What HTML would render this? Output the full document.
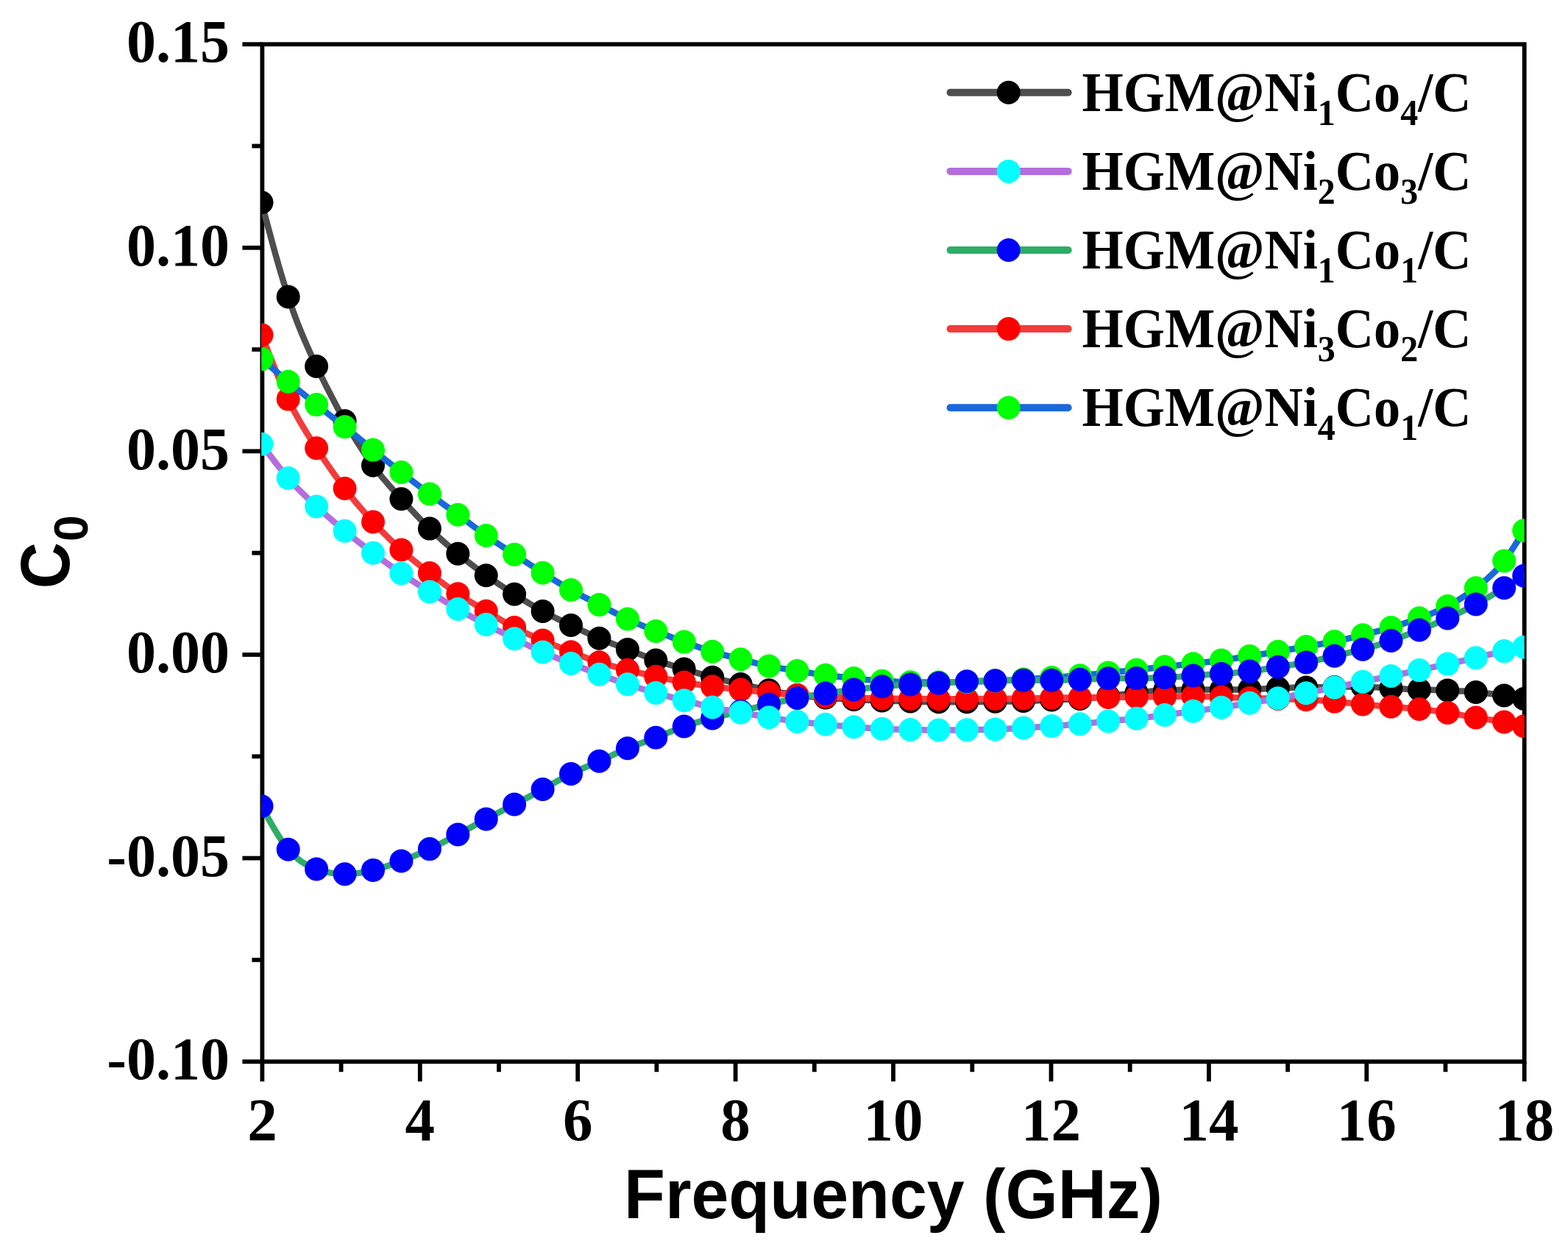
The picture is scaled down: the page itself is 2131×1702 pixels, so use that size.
<!DOCTYPE html><html><head><meta charset="utf-8"><title>C0 vs Frequency</title><style>html,body{margin:0;padding:0;background:#fff;}svg{display:block;}</style></head><body>
<svg width="2131" height="1702" viewBox="0 0 2131 1702">
<rect width="2131" height="1702" fill="#fff"/>
<defs><clipPath id="pc"><rect x="355.2" y="60.2" width="1716.5" height="1383"/></clipPath></defs>
<g><rect x="356.4" y="60.2" width="1715.3" height="1383" fill="none" stroke="#000" stroke-width="5.8"/><line x1="329.4" y1="60.2" x2="356.4" y2="60.2" stroke="#000" stroke-width="5.8"/><line x1="342.4" y1="198.5" x2="356.4" y2="198.5" stroke="#000" stroke-width="5.8"/><line x1="329.4" y1="336.8" x2="356.4" y2="336.8" stroke="#000" stroke-width="5.8"/><line x1="342.4" y1="475.1" x2="356.4" y2="475.1" stroke="#000" stroke-width="5.8"/><line x1="329.4" y1="613.4" x2="356.4" y2="613.4" stroke="#000" stroke-width="5.8"/><line x1="342.4" y1="751.7" x2="356.4" y2="751.7" stroke="#000" stroke-width="5.8"/><line x1="329.4" y1="890" x2="356.4" y2="890" stroke="#000" stroke-width="5.8"/><line x1="342.4" y1="1028.3" x2="356.4" y2="1028.3" stroke="#000" stroke-width="5.8"/><line x1="329.4" y1="1166.6" x2="356.4" y2="1166.6" stroke="#000" stroke-width="5.8"/><line x1="342.4" y1="1304.9" x2="356.4" y2="1304.9" stroke="#000" stroke-width="5.8"/><line x1="329.4" y1="1443.2" x2="356.4" y2="1443.2" stroke="#000" stroke-width="5.8"/><line x1="356.4" y1="1443.2" x2="356.4" y2="1470.2" stroke="#000" stroke-width="5.8"/><line x1="463.6" y1="1443.2" x2="463.6" y2="1457.2" stroke="#000" stroke-width="5.8"/><line x1="570.8" y1="1443.2" x2="570.8" y2="1470.2" stroke="#000" stroke-width="5.8"/><line x1="678" y1="1443.2" x2="678" y2="1457.2" stroke="#000" stroke-width="5.8"/><line x1="785.2" y1="1443.2" x2="785.2" y2="1470.2" stroke="#000" stroke-width="5.8"/><line x1="892.4" y1="1443.2" x2="892.4" y2="1457.2" stroke="#000" stroke-width="5.8"/><line x1="999.6" y1="1443.2" x2="999.6" y2="1470.2" stroke="#000" stroke-width="5.8"/><line x1="1106.8" y1="1443.2" x2="1106.8" y2="1457.2" stroke="#000" stroke-width="5.8"/><line x1="1214" y1="1443.2" x2="1214" y2="1470.2" stroke="#000" stroke-width="5.8"/><line x1="1321.3" y1="1443.2" x2="1321.3" y2="1457.2" stroke="#000" stroke-width="5.8"/><line x1="1428.5" y1="1443.2" x2="1428.5" y2="1470.2" stroke="#000" stroke-width="5.8"/><line x1="1535.7" y1="1443.2" x2="1535.7" y2="1457.2" stroke="#000" stroke-width="5.8"/><line x1="1642.9" y1="1443.2" x2="1642.9" y2="1470.2" stroke="#000" stroke-width="5.8"/><line x1="1750.1" y1="1443.2" x2="1750.1" y2="1457.2" stroke="#000" stroke-width="5.8"/><line x1="1857.3" y1="1443.2" x2="1857.3" y2="1470.2" stroke="#000" stroke-width="5.8"/><line x1="1964.5" y1="1443.2" x2="1964.5" y2="1457.2" stroke="#000" stroke-width="5.8"/><line x1="2071.7" y1="1443.2" x2="2071.7" y2="1470.2" stroke="#000" stroke-width="5.8"/></g>
<g font-family="Liberation Serif, 'Times New Roman', serif" font-weight="bold" fill="#000">
<text transform="translate(311.9,84.4) scale(1,1.025)" font-size="80" text-anchor="end">0.15</text>
<text transform="translate(311.9,361) scale(1,1.025)" font-size="80" text-anchor="end">0.10</text>
<text transform="translate(311.9,637.6) scale(1,1.025)" font-size="80" text-anchor="end">0.05</text>
<text transform="translate(311.9,914.2) scale(1,1.025)" font-size="80" text-anchor="end">0.00</text>
<text transform="translate(311.9,1190.8) scale(1,1.025)" font-size="80" text-anchor="end">-0.05</text>
<text transform="translate(311.9,1467.4) scale(1,1.025)" font-size="80" text-anchor="end">-0.10</text>
<text transform="translate(356.4,1550) scale(1,1.025)" font-size="81" text-anchor="middle">2</text>
<text transform="translate(570.8,1550) scale(1,1.025)" font-size="81" text-anchor="middle">4</text>
<text transform="translate(785.2,1550) scale(1,1.025)" font-size="81" text-anchor="middle">6</text>
<text transform="translate(999.6,1550) scale(1,1.025)" font-size="81" text-anchor="middle">8</text>
<text transform="translate(1214,1550) scale(1,1.025)" font-size="81" text-anchor="middle">10</text>
<text transform="translate(1428.5,1550) scale(1,1.025)" font-size="81" text-anchor="middle">12</text>
<text transform="translate(1642.9,1550) scale(1,1.025)" font-size="81" text-anchor="middle">14</text>
<text transform="translate(1857.3,1550) scale(1,1.025)" font-size="81" text-anchor="middle">16</text>
<text transform="translate(2071.7,1550) scale(1,1.025)" font-size="81" text-anchor="middle">18</text>
</g>
<text transform="translate(1214,1655.7) scale(1,1.025)" font-family="Liberation Sans, Arial, sans-serif" font-weight="bold" font-size="91.5" text-anchor="middle">Frequency (GHz)</text>
<g font-family="Liberation Sans, Arial, sans-serif" font-weight="bold"><text transform="translate(94.1,768.6) rotate(-90) scale(0.93,1)" font-size="94" text-anchor="middle">C</text><text transform="translate(118.8,718.2) rotate(-90)" font-size="64" text-anchor="middle">0</text></g>
<g clip-path="url(#pc)">
<polyline points="355.5,275.3 359.5,290.5 363.5,305.7 367.6,320.7 371.6,335.5 375.6,350 379.6,364.1 383.7,377.8 387.7,390.9 391.7,403.5 396,416.1 400.2,428 404.5,439.4 408.8,450.1 413.1,460.4 417.3,470.2 421.6,479.8 425.9,489 430.1,498 434.4,506.9 438.7,515.6 442.9,524.1 447.2,532.5 451.5,540.8 455.8,548.9 460,556.9 464.3,564.7 468.6,572.3 472.8,579.8 477.1,587.1 481.4,594.2 485.6,601.2 489.9,607.9 494.2,614.5 498.4,620.8 502.7,626.9 507,632.8 511.3,638.5 515.5,643.9 519.8,649.2 524.1,654.2 528.3,659.2 532.6,664.1 536.9,668.8 541.1,673.5 545.4,678.2 549.7,682.9 554,687.5 558.2,692.1 562.5,696.7 566.8,701.2 571,705.7 575.3,710.1 579.6,714.4 583.9,718.6 588.1,722.7 592.4,726.8 596.7,730.7 600.9,734.5 605.2,738.3 609.5,742 613.7,745.7 618,749.3 622.3,752.8 626.5,756.3 630.8,759.7 635.1,763.1 639.4,766.4 643.6,769.7 647.9,773 652.2,776.1 656.4,779.2 660.7,782.3 665,785.3 669.2,788.2 673.5,791.1 677.8,794 682.1,796.8 686.3,799.6 690.6,802.3 694.9,805.1 699.1,807.8 703.4,810.5 707.7,813.2 711.9,815.9 716.2,818.5 720.5,821.1 724.8,823.7 729,826.2 733.3,828.6 737.6,831 741.8,833.3 746.1,835.5 750.4,837.7 754.6,839.8 758.9,841.9 763.2,843.9 767.5,846 771.7,848 776,850 780.3,852 784.5,854.1 788.8,856.1 793.1,858.1 797.4,860.1 801.6,862.1 805.9,864 810.2,865.9 814.4,867.8 818.7,869.6 823,871.3 827.2,873 831.5,874.7 835.8,876.4 840,878 844.3,879.6 848.6,881.3 852.9,882.9 857.1,884.6 861.4,886.2 865.7,887.9 869.9,889.6 874.2,891.2 878.5,892.8 882.8,894.4 887,896 891.3,897.5 895.6,899 899.8,900.4 904.1,901.7 908.4,903.1 912.6,904.4 916.9,905.7 921.2,907 925.5,908.2 929.7,909.5 934,910.8 938.3,912.1 942.5,913.3 946.8,914.6 951.1,915.9 955.3,917.1 959.6,918.3 963.9,919.5 968.2,920.7 972.4,921.8 976.7,922.9 981,924 985.2,925.1 989.5,926.1 993.8,927.1 998,928.1 1002.3,929 1006.6,930 1010.8,930.9 1015.1,931.9 1019.4,932.8 1023.7,933.7 1027.9,934.6 1032.2,935.5 1036.5,936.4 1040.7,937.3 1045,938.2 1049.3,939.1 1053.5,939.9 1057.8,940.7 1062.1,941.6 1066.4,942.3 1070.6,943.1 1074.9,943.8 1079.2,944.4 1083.4,945 1087.7,945.5 1092,946 1096.2,946.5 1100.5,946.9 1104.8,947.2 1109.1,947.6 1113.3,947.9 1117.6,948.2 1121.9,948.5 1126.1,948.8 1130.4,949.1 1134.7,949.4 1138.9,949.7 1143.2,950 1147.5,950.3 1151.8,950.5 1156,950.8 1160.3,951 1164.6,951.2 1168.8,951.4 1173.1,951.6 1177.4,951.8 1181.7,951.9 1185.9,952.1 1190.2,952.2 1194.5,952.4 1198.7,952.5 1203,952.6 1207.3,952.7 1211.5,952.9 1215.8,953 1220.1,953.1 1224.4,953.2 1228.6,953.3 1232.9,953.4 1237.2,953.5 1241.4,953.6 1245.7,953.7 1250,953.8 1254.2,953.9 1258.5,954 1262.8,954 1267,954.1 1271.3,954.2 1275.6,954.2 1279.9,954.2 1284.1,954.3 1288.4,954.3 1292.7,954.3 1296.9,954.3 1301.2,954.3 1305.5,954.2 1309.8,954.2 1314,954.2 1318.3,954.2 1322.6,954.1 1326.8,954.1 1331.1,954.1 1335.4,954 1339.6,954 1343.9,953.9 1348.2,953.9 1352.5,953.8 1356.7,953.7 1361,953.7 1365.3,953.6 1369.5,953.5 1373.8,953.4 1378.1,953.4 1382.3,953.2 1386.6,953.1 1390.9,953 1395.1,952.9 1399.4,952.7 1403.7,952.5 1408,952.4 1412.2,952.2 1416.5,952 1420.8,951.8 1425,951.7 1429.3,951.5 1433.6,951.4 1437.8,951.2 1442.1,951.1 1446.4,950.9 1450.7,950.8 1454.9,950.6 1459.2,950.4 1463.5,950.2 1467.7,950 1472,949.7 1476.3,949.4 1480.5,949.1 1484.8,948.8 1489.1,948.4 1493.4,947.9 1497.6,947.5 1501.9,947 1506.2,946.5 1510.4,946 1514.7,945.4 1519,944.8 1523.2,944.2 1527.5,943.7 1531.8,943.1 1536.1,942.5 1540.3,942 1544.6,941.5 1548.9,941 1553.1,940.6 1557.4,940.2 1561.7,939.9 1566,939.5 1570.2,939.2 1574.5,939 1578.8,938.7 1583,938.5 1587.3,938.3 1591.6,938.1 1595.8,938 1600.1,937.9 1604.4,937.8 1608.7,937.7 1612.9,937.6 1617.2,937.5 1621.5,937.5 1625.7,937.5 1630,937.5 1634.3,937.5 1638.5,937.5 1642.8,937.5 1647.1,937.5 1651.4,937.5 1655.6,937.5 1659.9,937.5 1664.2,937.5 1668.4,937.5 1672.7,937.5 1677,937.4 1681.2,937.4 1685.5,937.3 1689.8,937.2 1694,937.1 1698.3,937 1702.6,936.9 1706.9,936.7 1711.1,936.6 1715.4,936.4 1719.7,936.2 1723.9,936 1728.2,935.8 1732.5,935.7 1736.8,935.5 1741,935.3 1745.3,935.2 1749.6,935.1 1753.8,934.9 1758.1,934.8 1762.4,934.7 1766.6,934.6 1770.9,934.6 1775.2,934.5 1779.5,934.4 1783.7,934.4 1788,934.3 1792.3,934.3 1796.5,934.3 1800.8,934.2 1805.1,934.1 1809.3,934.1 1813.6,934 1817.9,933.9 1822.2,933.8 1826.4,933.7 1830.7,933.6 1835,933.5 1839.2,933.5 1843.5,933.4 1847.8,933.4 1852,933.5 1856.3,933.6 1860.6,933.7 1864.8,933.9 1869.1,934.2 1873.4,934.4 1877.7,934.7 1881.9,934.9 1886.2,935.2 1890.5,935.5 1894.7,935.8 1899,936 1903.3,936.3 1907.5,936.5 1911.8,936.8 1916.1,937 1920.4,937.2 1924.6,937.3 1928.9,937.5 1933.2,937.6 1937.4,937.7 1941.7,937.8 1946,937.9 1950.2,938 1954.5,938.1 1958.8,938.2 1963.1,938.4 1967.3,938.5 1971.6,938.7 1975.9,938.9 1980.1,939.1 1984.4,939.4 1988.7,939.6 1993,939.9 1997.2,940.3 2001.5,940.6 2005.8,941 2010,941.4 2014.3,941.8 2018.6,942.3 2022.8,942.7 2027.1,943.2 2031.4,943.7 2035.7,944.3 2039.9,944.9 2044.2,945.5 2048.7,946.2 2053.2,946.9 2057.7,947.7 2062.2,948.4 2066.7,949.2 2071.2,950" fill="none" stroke="#4E4E4E" stroke-width="8.5" stroke-linejoin="round" stroke-linecap="round"/>
<g fill="#000000"><circle cx="355.5" cy="275.3" r="16.0"/><circle cx="391.7" cy="403.5" r="16.0"/><circle cx="430.1" cy="498" r="16.0"/><circle cx="468.6" cy="572.3" r="16.0"/><circle cx="507" cy="632.8" r="16.0"/><circle cx="545.4" cy="678.2" r="16.0"/><circle cx="583.9" cy="718.6" r="16.0"/><circle cx="622.3" cy="752.8" r="16.0"/><circle cx="660.7" cy="782.3" r="16.0"/><circle cx="699.1" cy="807.8" r="16.0"/><circle cx="737.6" cy="831" r="16.0"/><circle cx="776" cy="850" r="16.0"/><circle cx="814.4" cy="867.8" r="16.0"/><circle cx="852.9" cy="882.9" r="16.0"/><circle cx="891.3" cy="897.5" r="16.0"/><circle cx="929.7" cy="909.5" r="16.0"/><circle cx="968.2" cy="920.7" r="16.0"/><circle cx="1006.6" cy="930" r="16.0"/><circle cx="1045" cy="938.2" r="16.0"/><circle cx="1083.4" cy="945" r="16.0"/><circle cx="1121.9" cy="948.5" r="16.0"/><circle cx="1160.3" cy="951" r="16.0"/><circle cx="1198.7" cy="952.5" r="16.0"/><circle cx="1237.2" cy="953.5" r="16.0"/><circle cx="1275.6" cy="954.2" r="16.0"/><circle cx="1314" cy="954.2" r="16.0"/><circle cx="1352.5" cy="953.8" r="16.0"/><circle cx="1390.9" cy="953" r="16.0"/><circle cx="1429.3" cy="951.5" r="16.0"/><circle cx="1467.7" cy="950" r="16.0"/><circle cx="1506.2" cy="946.5" r="16.0"/><circle cx="1544.6" cy="941.5" r="16.0"/><circle cx="1583" cy="938.5" r="16.0"/><circle cx="1621.5" cy="937.5" r="16.0"/><circle cx="1659.9" cy="937.5" r="16.0"/><circle cx="1698.3" cy="937" r="16.0"/><circle cx="1736.8" cy="935.5" r="16.0"/><circle cx="1775.2" cy="934.5" r="16.0"/><circle cx="1813.6" cy="934" r="16.0"/><circle cx="1852" cy="933.5" r="16.0"/><circle cx="1890.5" cy="935.5" r="16.0"/><circle cx="1928.9" cy="937.5" r="16.0"/><circle cx="1967.3" cy="938.5" r="16.0"/><circle cx="2005.8" cy="941" r="16.0"/><circle cx="2044.2" cy="945.5" r="16.0"/><circle cx="2071.2" cy="950" r="16.0"/></g>
<polyline points="355.5,455.2 359.5,465.5 363.5,475.8 367.6,486 371.6,496.1 375.6,506 379.6,515.6 383.7,524.9 387.7,534 391.7,542.6 396,551.3 400.2,559.6 404.5,567.5 408.8,575.1 413.1,582.3 417.3,589.3 421.6,596.1 425.9,602.8 430.1,609.3 434.4,615.7 438.7,622.1 442.9,628.4 447.2,634.6 451.5,640.7 455.8,646.7 460,652.6 464.3,658.4 468.6,664 472.8,669.5 477.1,674.9 481.4,680.2 485.6,685.3 489.9,690.3 494.2,695.3 498.4,700.1 502.7,704.8 507,709.5 511.3,714.1 515.5,718.6 519.8,723 524.1,727.3 528.3,731.5 532.6,735.6 536.9,739.7 541.1,743.6 545.4,747.5 549.7,751.3 554,755 558.2,758.6 562.5,762.1 566.8,765.6 571,769 575.3,772.4 579.6,775.8 583.9,779.1 588.1,782.4 592.4,785.7 596.7,788.9 600.9,792.1 605.2,795.3 609.5,798.4 613.7,801.4 618,804.4 622.3,807.3 626.5,810.1 630.8,812.8 635.1,815.5 639.4,818.1 643.6,820.7 647.9,823.2 652.2,825.7 656.4,828.3 660.7,830.8 665,833.3 669.2,835.9 673.5,838.5 677.8,841 682.1,843.5 686.3,846 690.6,848.4 694.9,850.7 699.1,853 703.4,855.2 707.7,857.3 711.9,859.3 716.2,861.3 720.5,863.2 724.8,865.1 729,866.9 733.3,868.7 737.6,870.5 741.8,872.3 746.1,874.1 750.4,875.8 754.6,877.6 758.9,879.3 763.2,881.1 767.5,882.8 771.7,884.5 776,886.2 780.3,887.9 784.5,889.6 788.8,891.2 793.1,892.8 797.4,894.4 801.6,896 805.9,897.5 810.2,898.9 814.4,900.3 818.7,901.6 823,902.9 827.2,904.1 831.5,905.3 835.8,906.4 840,907.5 844.3,908.6 848.6,909.7 852.9,910.7 857.1,911.7 861.4,912.8 865.7,913.8 869.9,914.8 874.2,915.8 878.5,916.8 882.8,917.8 887,918.7 891.3,919.7 895.6,920.6 899.8,921.6 904.1,922.5 908.4,923.3 912.6,924.2 916.9,925 921.2,925.8 925.5,926.6 929.7,927.4 934,928.1 938.3,928.9 942.5,929.5 946.8,930.2 951.1,930.8 955.3,931.5 959.6,932.1 963.9,932.6 968.2,933.2 972.4,933.7 976.7,934.3 981,934.8 985.2,935.3 989.5,935.8 993.8,936.2 998,936.7 1002.3,937.2 1006.6,937.6 1010.8,938 1015.1,938.5 1019.4,938.9 1023.7,939.4 1027.9,939.8 1032.2,940.2 1036.5,940.6 1040.7,941.1 1045,941.5 1049.3,941.9 1053.5,942.4 1057.8,942.8 1062.1,943.2 1066.4,943.6 1070.6,944 1074.9,944.3 1079.2,944.7 1083.4,945 1087.7,945.3 1092,945.6 1096.2,945.8 1100.5,946 1104.8,946.2 1109.1,946.4 1113.3,946.6 1117.6,946.8 1121.9,947 1126.1,947.2 1130.4,947.4 1134.7,947.5 1138.9,947.7 1143.2,947.9 1147.5,948 1151.8,948.2 1156,948.4 1160.3,948.5 1164.6,948.6 1168.8,948.8 1173.1,948.9 1177.4,949 1181.7,949.1 1185.9,949.2 1190.2,949.3 1194.5,949.4 1198.7,949.5 1203,949.6 1207.3,949.6 1211.5,949.7 1215.8,949.8 1220.1,949.8 1224.4,949.9 1228.6,949.9 1232.9,950 1237.2,950 1241.4,950 1245.7,950.1 1250,950.1 1254.2,950.1 1258.5,950.1 1262.8,950.2 1267,950.2 1271.3,950.2 1275.6,950.2 1279.9,950.2 1284.1,950.2 1288.4,950.2 1292.7,950.2 1296.9,950.2 1301.2,950.2 1305.5,950.2 1309.8,950.2 1314,950.2 1318.3,950.2 1322.6,950.2 1326.8,950.2 1331.1,950.1 1335.4,950.1 1339.6,950.1 1343.9,950.1 1348.2,950 1352.5,950 1356.7,950 1361,949.9 1365.3,949.9 1369.5,949.8 1373.8,949.8 1378.1,949.7 1382.3,949.6 1386.6,949.6 1390.9,949.5 1395.1,949.4 1399.4,949.3 1403.7,949.3 1408,949.2 1412.2,949.1 1416.5,949 1420.8,949 1425,948.9 1429.3,948.8 1433.6,948.7 1437.8,948.7 1442.1,948.6 1446.4,948.5 1450.7,948.5 1454.9,948.4 1459.2,948.4 1463.5,948.3 1467.7,948.3 1472,948.3 1476.3,948.2 1480.5,948.2 1484.8,948.2 1489.1,948.1 1493.4,948.1 1497.6,948.1 1501.9,948 1506.2,948 1510.4,948 1514.7,947.9 1519,947.8 1523.2,947.8 1527.5,947.7 1531.8,947.7 1536.1,947.6 1540.3,947.6 1544.6,947.5 1548.9,947.4 1553.1,947.4 1557.4,947.3 1561.7,947.3 1566,947.2 1570.2,947.2 1574.5,947.1 1578.8,947.1 1583,947 1587.3,946.9 1591.6,946.8 1595.8,946.8 1600.1,946.7 1604.4,946.6 1608.7,946.6 1612.9,946.5 1617.2,946.5 1621.5,946.5 1625.7,946.5 1630,946.6 1634.3,946.7 1638.5,946.8 1642.8,946.9 1647.1,947 1651.4,947.2 1655.6,947.3 1659.9,947.5 1664.2,947.7 1668.4,947.8 1672.7,948 1677,948.2 1681.2,948.4 1685.5,948.5 1689.8,948.7 1694,948.9 1698.3,949 1702.6,949.1 1706.9,949.3 1711.1,949.4 1715.4,949.5 1719.7,949.6 1723.9,949.7 1728.2,949.8 1732.5,949.9 1736.8,950 1741,950.1 1745.3,950.2 1749.6,950.4 1753.8,950.5 1758.1,950.6 1762.4,950.8 1766.6,951 1770.9,951.1 1775.2,951.3 1779.5,951.5 1783.7,951.7 1788,951.9 1792.3,952.1 1796.5,952.4 1800.8,952.6 1805.1,952.9 1809.3,953.2 1813.6,953.6 1817.9,954 1822.2,954.4 1826.4,954.8 1830.7,955.3 1835,955.7 1839.2,956.2 1843.5,956.6 1847.8,957.1 1852,957.5 1856.3,957.9 1860.6,958.3 1864.8,958.7 1869.1,959 1873.4,959.4 1877.7,959.7 1881.9,960 1886.2,960.4 1890.5,960.7 1894.7,961 1899,961.4 1903.3,961.7 1907.5,962.1 1911.8,962.4 1916.1,962.8 1920.4,963.2 1924.6,963.6 1928.9,964 1933.2,964.4 1937.4,964.9 1941.7,965.4 1946,965.9 1950.2,966.4 1954.5,967 1958.8,967.6 1963.1,968.2 1967.3,968.9 1971.6,969.6 1975.9,970.3 1980.1,971.1 1984.4,971.8 1988.7,972.6 1993,973.3 1997.2,974.1 2001.5,974.8 2005.8,975.5 2010,976.2 2014.3,976.8 2018.6,977.4 2022.8,978.1 2027.1,978.7 2031.4,979.3 2035.7,980 2039.9,980.7 2044.2,981.5 2048.7,982.4 2053.2,983.3 2057.7,984.3 2062.2,985.2 2066.7,986.3 2071.2,987.3" fill="none" stroke="#F23C3C" stroke-width="8.5" stroke-linejoin="round" stroke-linecap="round"/>
<g fill="#FF0000"><circle cx="355.5" cy="455.2" r="16.0"/><circle cx="391.7" cy="542.6" r="16.0"/><circle cx="430.1" cy="609.3" r="16.0"/><circle cx="468.6" cy="664" r="16.0"/><circle cx="507" cy="709.5" r="16.0"/><circle cx="545.4" cy="747.5" r="16.0"/><circle cx="583.9" cy="779.1" r="16.0"/><circle cx="622.3" cy="807.3" r="16.0"/><circle cx="660.7" cy="830.8" r="16.0"/><circle cx="699.1" cy="853" r="16.0"/><circle cx="737.6" cy="870.5" r="16.0"/><circle cx="776" cy="886.2" r="16.0"/><circle cx="814.4" cy="900.3" r="16.0"/><circle cx="852.9" cy="910.7" r="16.0"/><circle cx="891.3" cy="919.7" r="16.0"/><circle cx="929.7" cy="927.4" r="16.0"/><circle cx="968.2" cy="933.2" r="16.0"/><circle cx="1006.6" cy="937.6" r="16.0"/><circle cx="1045" cy="941.5" r="16.0"/><circle cx="1083.4" cy="945" r="16.0"/><circle cx="1121.9" cy="947" r="16.0"/><circle cx="1160.3" cy="948.5" r="16.0"/><circle cx="1198.7" cy="949.5" r="16.0"/><circle cx="1237.2" cy="950" r="16.0"/><circle cx="1275.6" cy="950.2" r="16.0"/><circle cx="1314" cy="950.2" r="16.0"/><circle cx="1352.5" cy="950" r="16.0"/><circle cx="1390.9" cy="949.5" r="16.0"/><circle cx="1429.3" cy="948.8" r="16.0"/><circle cx="1467.7" cy="948.3" r="16.0"/><circle cx="1506.2" cy="948" r="16.0"/><circle cx="1544.6" cy="947.5" r="16.0"/><circle cx="1583" cy="947" r="16.0"/><circle cx="1621.5" cy="946.5" r="16.0"/><circle cx="1659.9" cy="947.5" r="16.0"/><circle cx="1698.3" cy="949" r="16.0"/><circle cx="1736.8" cy="950" r="16.0"/><circle cx="1775.2" cy="951.3" r="16.0"/><circle cx="1813.6" cy="953.6" r="16.0"/><circle cx="1852" cy="957.5" r="16.0"/><circle cx="1890.5" cy="960.7" r="16.0"/><circle cx="1928.9" cy="964" r="16.0"/><circle cx="1967.3" cy="968.9" r="16.0"/><circle cx="2005.8" cy="975.5" r="16.0"/><circle cx="2044.2" cy="981.5" r="16.0"/><circle cx="2071.2" cy="987.3" r="16.0"/></g>
<polyline points="355.5,488.1 359.5,491.5 363.5,494.9 367.6,498.3 371.6,501.8 375.6,505.2 379.6,508.6 383.7,511.9 387.7,515.3 391.7,518.7 396,522.3 400.2,525.8 404.5,529.4 408.8,532.9 413.1,536.4 417.3,539.8 421.6,543.3 425.9,546.7 430.1,550.1 434.4,553.5 438.7,556.8 442.9,560.1 447.2,563.5 451.5,566.8 455.8,570.1 460,573.4 464.3,576.8 468.6,580.2 472.8,583.6 477.1,587.1 481.4,590.6 485.6,594.1 489.9,597.6 494.2,601.1 498.4,604.6 502.7,608.1 507,611.6 511.3,615.1 515.5,618.5 519.8,621.9 524.1,625.3 528.3,628.6 532.6,632 536.9,635.3 541.1,638.7 545.4,642 549.7,645.3 554,648.6 558.2,652 562.5,655.3 566.8,658.6 571,661.8 575.3,665.1 579.6,668.3 583.9,671.5 588.1,674.7 592.4,677.8 596.7,681 600.9,684.1 605.2,687.2 609.5,690.3 613.7,693.4 618,696.6 622.3,699.7 626.5,702.9 630.8,706 635.1,709.2 639.4,712.4 643.6,715.6 647.9,718.7 652.2,721.9 656.4,725 660.7,728 665,731 669.2,733.9 673.5,736.9 677.8,739.7 682.1,742.6 686.3,745.4 690.6,748.2 694.9,751 699.1,753.8 703.4,756.6 707.7,759.4 711.9,762.2 716.2,764.9 720.5,767.7 724.8,770.5 729,773.2 733.3,776 737.6,778.7 741.8,781.4 746.1,784.1 750.4,786.8 754.6,789.4 758.9,792 763.2,794.6 767.5,797.1 771.7,799.6 776,802 780.3,804.4 784.5,806.7 788.8,808.9 793.1,811.2 797.4,813.4 801.6,815.6 805.9,817.7 810.2,819.9 814.4,822.1 818.7,824.3 823,826.5 827.2,828.7 831.5,830.9 835.8,833.1 840,835.2 844.3,837.4 848.6,839.5 852.9,841.5 857.1,843.5 861.4,845.4 865.7,847.3 869.9,849.2 874.2,851 878.5,852.8 882.8,854.6 887,856.3 891.3,858 895.6,859.7 899.8,861.4 904.1,863 908.4,864.6 912.6,866.3 916.9,867.9 921.2,869.5 925.5,871 929.7,872.6 934,874.2 938.3,875.7 942.5,877.2 946.8,878.7 951.1,880.2 955.3,881.6 959.6,883 963.9,884.4 968.2,885.7 972.4,887 976.7,888.2 981,889.4 985.2,890.6 989.5,891.8 993.8,892.9 998,894 1002.3,895.1 1006.6,896.2 1010.8,897.3 1015.1,898.4 1019.4,899.5 1023.7,900.5 1027.9,901.6 1032.2,902.6 1036.5,903.6 1040.7,904.5 1045,905.4 1049.3,906.3 1053.5,907.1 1057.8,907.8 1062.1,908.6 1066.4,909.3 1070.6,910 1074.9,910.7 1079.2,911.3 1083.4,912 1087.7,912.7 1092,913.4 1096.2,914 1100.5,914.7 1104.8,915.4 1109.1,916 1113.3,916.6 1117.6,917.2 1121.9,917.8 1126.1,918.3 1130.4,918.9 1134.7,919.4 1138.9,919.8 1143.2,920.3 1147.5,920.8 1151.8,921.2 1156,921.7 1160.3,922.1 1164.6,922.5 1168.8,923 1173.1,923.4 1177.4,923.9 1181.7,924.3 1185.9,924.7 1190.2,925 1194.5,925.4 1198.7,925.7 1203,926 1207.3,926.2 1211.5,926.4 1215.8,926.6 1220.1,926.8 1224.4,926.9 1228.6,927 1232.9,927.1 1237.2,927.2 1241.4,927.3 1245.7,927.3 1250,927.4 1254.2,927.4 1258.5,927.5 1262.8,927.5 1267,927.5 1271.3,927.5 1275.6,927.5 1279.9,927.5 1284.1,927.5 1288.4,927.4 1292.7,927.4 1296.9,927.3 1301.2,927.3 1305.5,927.2 1309.8,927.1 1314,927 1318.3,926.9 1322.6,926.7 1326.8,926.6 1331.1,926.4 1335.4,926.3 1339.6,926.1 1343.9,925.9 1348.2,925.7 1352.5,925.5 1356.7,925.3 1361,925.1 1365.3,924.9 1369.5,924.7 1373.8,924.5 1378.1,924.2 1382.3,924 1386.6,923.8 1390.9,923.5 1395.1,923.2 1399.4,923 1403.7,922.7 1408,922.4 1412.2,922.1 1416.5,921.8 1420.8,921.6 1425,921.3 1429.3,921 1433.6,920.7 1437.8,920.5 1442.1,920.2 1446.4,919.9 1450.7,919.6 1454.9,919.3 1459.2,919 1463.5,918.7 1467.7,918.3 1472,917.9 1476.3,917.5 1480.5,917.1 1484.8,916.6 1489.1,916.2 1493.4,915.7 1497.6,915.3 1501.9,914.8 1506.2,914.4 1510.4,914 1514.7,913.6 1519,913.2 1523.2,912.8 1527.5,912.4 1531.8,912 1536.1,911.6 1540.3,911.1 1544.6,910.7 1548.9,910.2 1553.1,909.8 1557.4,909.3 1561.7,908.8 1566,908.3 1570.2,907.8 1574.5,907.3 1578.8,906.8 1583,906.3 1587.3,905.8 1591.6,905.4 1595.8,904.9 1600.1,904.5 1604.4,904 1608.7,903.6 1612.9,903.1 1617.2,902.7 1621.5,902.2 1625.7,901.7 1630,901.2 1634.3,900.7 1638.5,900.2 1642.8,899.7 1647.1,899.2 1651.4,898.6 1655.6,898.1 1659.9,897.5 1664.2,896.9 1668.4,896.3 1672.7,895.7 1677,895.1 1681.2,894.5 1685.5,893.8 1689.8,893.2 1694,892.6 1698.3,891.9 1702.6,891.2 1706.9,890.6 1711.1,889.9 1715.4,889.2 1719.7,888.5 1723.9,887.8 1728.2,887.1 1732.5,886.4 1736.8,885.7 1741,885 1745.3,884.2 1749.6,883.5 1753.8,882.7 1758.1,882 1762.4,881.2 1766.6,880.5 1770.9,879.7 1775.2,879 1779.5,878.3 1783.7,877.5 1788,876.8 1792.3,876 1796.5,875.3 1800.8,874.5 1805.1,873.7 1809.3,872.9 1813.6,872 1817.9,871.1 1822.2,870.2 1826.4,869.3 1830.7,868.3 1835,867.3 1839.2,866.3 1843.5,865.3 1847.8,864.2 1852,863.2 1856.3,862.2 1860.6,861.1 1864.8,860 1869.1,858.9 1873.4,857.8 1877.7,856.7 1881.9,855.5 1886.2,854.3 1890.5,853.1 1894.7,851.8 1899,850.5 1903.3,849.1 1907.5,847.7 1911.8,846.3 1916.1,844.8 1920.4,843.3 1924.6,841.8 1928.9,840.3 1933.2,838.7 1937.4,837.2 1941.7,835.5 1946,833.9 1950.2,832.1 1954.5,830.3 1958.8,828.3 1963.1,826.3 1967.3,824.1 1971.6,821.8 1975.9,819.4 1980.1,816.8 1984.4,814.1 1988.7,811.3 1993,808.4 1997.2,805.4 2001.5,802.4 2005.8,799.2 2010,796 2014.3,792.6 2018.6,789.1 2022.8,785.4 2027.1,781.4 2031.4,777.2 2035.7,772.7 2039.9,767.7 2044.2,762.4 2048.7,756.3 2053.2,749.8 2057.7,743 2062.2,735.9 2066.7,728.6 2071.2,721.3" fill="none" stroke="#1A68DA" stroke-width="8.5" stroke-linejoin="round" stroke-linecap="round"/>
<g fill="#00FF00"><circle cx="355.5" cy="488.1" r="16.0"/><circle cx="391.7" cy="518.7" r="16.0"/><circle cx="430.1" cy="550.1" r="16.0"/><circle cx="468.6" cy="580.2" r="16.0"/><circle cx="507" cy="611.6" r="16.0"/><circle cx="545.4" cy="642" r="16.0"/><circle cx="583.9" cy="671.5" r="16.0"/><circle cx="622.3" cy="699.7" r="16.0"/><circle cx="660.7" cy="728" r="16.0"/><circle cx="699.1" cy="753.8" r="16.0"/><circle cx="737.6" cy="778.7" r="16.0"/><circle cx="776" cy="802" r="16.0"/><circle cx="814.4" cy="822.1" r="16.0"/><circle cx="852.9" cy="841.5" r="16.0"/><circle cx="891.3" cy="858" r="16.0"/><circle cx="929.7" cy="872.6" r="16.0"/><circle cx="968.2" cy="885.7" r="16.0"/><circle cx="1006.6" cy="896.2" r="16.0"/><circle cx="1045" cy="905.4" r="16.0"/><circle cx="1083.4" cy="912" r="16.0"/><circle cx="1121.9" cy="917.8" r="16.0"/><circle cx="1160.3" cy="922.1" r="16.0"/><circle cx="1198.7" cy="925.7" r="16.0"/><circle cx="1237.2" cy="927.2" r="16.0"/><circle cx="1275.6" cy="927.5" r="16.0"/><circle cx="1314" cy="927" r="16.0"/><circle cx="1352.5" cy="925.5" r="16.0"/><circle cx="1390.9" cy="923.5" r="16.0"/><circle cx="1429.3" cy="921" r="16.0"/><circle cx="1467.7" cy="918.3" r="16.0"/><circle cx="1506.2" cy="914.4" r="16.0"/><circle cx="1544.6" cy="910.7" r="16.0"/><circle cx="1583" cy="906.3" r="16.0"/><circle cx="1621.5" cy="902.2" r="16.0"/><circle cx="1659.9" cy="897.5" r="16.0"/><circle cx="1698.3" cy="891.9" r="16.0"/><circle cx="1736.8" cy="885.7" r="16.0"/><circle cx="1775.2" cy="879" r="16.0"/><circle cx="1813.6" cy="872" r="16.0"/><circle cx="1852" cy="863.2" r="16.0"/><circle cx="1890.5" cy="853.1" r="16.0"/><circle cx="1928.9" cy="840.3" r="16.0"/><circle cx="1967.3" cy="824.1" r="16.0"/><circle cx="2005.8" cy="799.2" r="16.0"/><circle cx="2044.2" cy="762.4" r="16.0"/><circle cx="2071.2" cy="721.3" r="16.0"/></g>
<polyline points="355.5,1096 359.5,1103.4 363.5,1110.7 367.6,1117.8 371.6,1124.8 375.6,1131.5 379.6,1138 383.7,1144 387.7,1149.6 391.7,1154.7 396,1159.5 400.2,1163.7 404.5,1167.4 408.8,1170.7 413.1,1173.5 417.3,1175.9 421.6,1178 425.9,1179.8 430.1,1181.4 434.4,1182.8 438.7,1184.1 442.9,1185.2 447.2,1186.1 451.5,1186.9 455.8,1187.5 460,1187.9 464.3,1188.2 468.6,1188.3 472.8,1188.2 477.1,1188 481.4,1187.6 485.6,1187.1 489.9,1186.5 494.2,1185.8 498.4,1184.9 502.7,1183.9 507,1182.9 511.3,1181.8 515.5,1180.6 519.8,1179.3 524.1,1178 528.3,1176.6 532.6,1175.2 536.9,1173.7 541.1,1172.1 545.4,1170.5 549.7,1168.9 554,1167.2 558.2,1165.4 562.5,1163.7 566.8,1161.8 571,1160 575.3,1158.1 579.6,1156.1 583.9,1154.1 588.1,1152.1 592.4,1150 596.7,1147.8 600.9,1145.7 605.2,1143.5 609.5,1141.2 613.7,1139 618,1136.7 622.3,1134.4 626.5,1132.1 630.8,1129.7 635.1,1127.4 639.4,1125 643.6,1122.7 647.9,1120.3 652.2,1118 656.4,1115.7 660.7,1113.4 665,1111.1 669.2,1108.9 673.5,1106.7 677.8,1104.5 682.1,1102.3 686.3,1100.1 690.6,1097.9 694.9,1095.7 699.1,1093.5 703.4,1091.3 707.7,1089.1 711.9,1086.8 716.2,1084.6 720.5,1082.3 724.8,1080 729,1077.7 733.3,1075.4 737.6,1073 741.8,1070.6 746.1,1068.2 750.4,1065.8 754.6,1063.4 758.9,1061 763.2,1058.7 767.5,1056.4 771.7,1054.2 776,1052 780.3,1049.9 784.5,1047.9 788.8,1046 793.1,1044.1 797.4,1042.2 801.6,1040.3 805.9,1038.5 810.2,1036.6 814.4,1034.7 818.7,1032.8 823,1030.8 827.2,1028.8 831.5,1026.8 835.8,1024.8 840,1022.9 844.3,1021 848.6,1019.1 852.9,1017.3 857.1,1015.6 861.4,1013.9 865.7,1012.3 869.9,1010.7 874.2,1009.2 878.5,1007.6 882.8,1006 887,1004.4 891.3,1002.8 895.6,1001.1 899.8,999.4 904.1,997.6 908.4,995.9 912.6,994.1 916.9,992.4 921.2,990.7 925.5,989.1 929.7,987.5 934,986 938.3,984.6 942.5,983.3 946.8,982.1 951.1,980.9 955.3,979.7 959.6,978.6 963.9,977.5 968.2,976.4 972.4,975.3 976.7,974.2 981,973.2 985.2,972.1 989.5,971 993.8,970 998,968.9 1002.3,967.9 1006.6,966.8 1010.8,965.7 1015.1,964.7 1019.4,963.6 1023.7,962.6 1027.9,961.5 1032.2,960.5 1036.5,959.4 1040.7,958.4 1045,957.4 1049.3,956.4 1053.5,955.4 1057.8,954.4 1062.1,953.5 1066.4,952.5 1070.6,951.6 1074.9,950.7 1079.2,949.8 1083.4,949 1087.7,948.2 1092,947.4 1096.2,946.7 1100.5,945.9 1104.8,945.2 1109.1,944.5 1113.3,943.9 1117.6,943.2 1121.9,942.6 1126.1,942 1130.4,941.4 1134.7,940.8 1138.9,940.2 1143.2,939.7 1147.5,939.1 1151.8,938.6 1156,938 1160.3,937.5 1164.6,937 1168.8,936.5 1173.1,936 1177.4,935.5 1181.7,935 1185.9,934.5 1190.2,934 1194.5,933.6 1198.7,933.2 1203,932.8 1207.3,932.4 1211.5,932.1 1215.8,931.8 1220.1,931.4 1224.4,931.2 1228.6,930.9 1232.9,930.6 1237.2,930.4 1241.4,930.2 1245.7,930 1250,929.8 1254.2,929.6 1258.5,929.4 1262.8,929.2 1267,929 1271.3,928.8 1275.6,928.6 1279.9,928.4 1284.1,928.1 1288.4,927.8 1292.7,927.5 1296.9,927.3 1301.2,927 1305.5,926.7 1309.8,926.5 1314,926.3 1318.3,926.1 1322.6,926 1326.8,925.8 1331.1,925.7 1335.4,925.6 1339.6,925.5 1343.9,925.4 1348.2,925.4 1352.5,925.3 1356.7,925.2 1361,925.2 1365.3,925.1 1369.5,925 1373.8,925 1378.1,924.9 1382.3,924.9 1386.6,924.8 1390.9,924.8 1395.1,924.8 1399.4,924.8 1403.7,924.8 1408,924.8 1412.2,924.8 1416.5,924.8 1420.8,924.7 1425,924.7 1429.3,924.7 1433.6,924.7 1437.8,924.6 1442.1,924.5 1446.4,924.4 1450.7,924.3 1454.9,924.2 1459.2,924.1 1463.5,924 1467.7,923.8 1472,923.6 1476.3,923.4 1480.5,923.3 1484.8,923.1 1489.1,922.9 1493.4,922.7 1497.6,922.6 1501.9,922.4 1506.2,922.3 1510.4,922.2 1514.7,922.2 1519,922.1 1523.2,922.1 1527.5,922.1 1531.8,922.1 1536.1,922.1 1540.3,922 1544.6,922 1548.9,922 1553.1,921.9 1557.4,921.8 1561.7,921.7 1566,921.6 1570.2,921.4 1574.5,921.3 1578.8,921.1 1583,920.9 1587.3,920.7 1591.6,920.4 1595.8,920.2 1600.1,919.9 1604.4,919.7 1608.7,919.4 1612.9,919.1 1617.2,918.8 1621.5,918.5 1625.7,918.2 1630,917.9 1634.3,917.6 1638.5,917.3 1642.8,917 1647.1,916.8 1651.4,916.5 1655.6,916.2 1659.9,915.9 1664.2,915.6 1668.4,915.3 1672.7,915 1677,914.7 1681.2,914.3 1685.5,914 1689.8,913.6 1694,913.1 1698.3,912.6 1702.6,912 1706.9,911.5 1711.1,910.8 1715.4,910.2 1719.7,909.5 1723.9,908.8 1728.2,908.1 1732.5,907.4 1736.8,906.7 1741,906 1745.3,905.4 1749.6,904.7 1753.8,904 1758.1,903.4 1762.4,902.7 1766.6,902 1770.9,901.2 1775.2,900.4 1779.5,899.6 1783.7,898.7 1788,897.7 1792.3,896.8 1796.5,895.8 1800.8,894.8 1805.1,893.8 1809.3,892.8 1813.6,891.8 1817.9,890.8 1822.2,889.8 1826.4,888.9 1830.7,887.9 1835,886.9 1839.2,885.9 1843.5,884.9 1847.8,883.8 1852,882.7 1856.3,881.6 1860.6,880.4 1864.8,879.2 1869.1,877.9 1873.4,876.6 1877.7,875.3 1881.9,873.9 1886.2,872.5 1890.5,871 1894.7,869.5 1899,867.9 1903.3,866.4 1907.5,864.7 1911.8,863.1 1916.1,861.4 1920.4,859.8 1924.6,858.1 1928.9,856.4 1933.2,854.7 1937.4,853 1941.7,851.3 1946,849.6 1950.2,847.8 1954.5,846 1958.8,844.2 1963.1,842.4 1967.3,840.5 1971.6,838.6 1975.9,836.6 1980.1,834.6 1984.4,832.5 1988.7,830.4 1993,828.3 1997.2,826 2001.5,823.8 2005.8,821.5 2010,819.2 2014.3,816.8 2018.6,814.3 2022.8,811.9 2027.1,809.4 2031.4,806.9 2035.7,804.3 2039.9,801.8 2044.2,799.2 2048.7,796.5 2053.2,793.8 2057.7,791 2062.2,788.3 2066.7,785.5 2071.2,782.8" fill="none" stroke="#2EAD66" stroke-width="8.5" stroke-linejoin="round" stroke-linecap="round"/>
<g fill="#0000FF"><circle cx="355.5" cy="1096" r="16.0"/><circle cx="391.7" cy="1154.7" r="16.0"/><circle cx="430.1" cy="1181.4" r="16.0"/><circle cx="468.6" cy="1188.3" r="16.0"/><circle cx="507" cy="1182.9" r="16.0"/><circle cx="545.4" cy="1170.5" r="16.0"/><circle cx="583.9" cy="1154.1" r="16.0"/><circle cx="622.3" cy="1134.4" r="16.0"/><circle cx="660.7" cy="1113.4" r="16.0"/><circle cx="699.1" cy="1093.5" r="16.0"/><circle cx="737.6" cy="1073" r="16.0"/><circle cx="776" cy="1052" r="16.0"/><circle cx="814.4" cy="1034.7" r="16.0"/><circle cx="852.9" cy="1017.3" r="16.0"/><circle cx="891.3" cy="1002.8" r="16.0"/><circle cx="929.7" cy="987.5" r="16.0"/><circle cx="968.2" cy="976.4" r="16.0"/><circle cx="1006.6" cy="966.8" r="16.0"/><circle cx="1045" cy="957.4" r="16.0"/><circle cx="1083.4" cy="949" r="16.0"/><circle cx="1121.9" cy="942.6" r="16.0"/><circle cx="1160.3" cy="937.5" r="16.0"/><circle cx="1198.7" cy="933.2" r="16.0"/><circle cx="1237.2" cy="930.4" r="16.0"/><circle cx="1275.6" cy="928.6" r="16.0"/><circle cx="1314" cy="926.3" r="16.0"/><circle cx="1352.5" cy="925.3" r="16.0"/><circle cx="1390.9" cy="924.8" r="16.0"/><circle cx="1429.3" cy="924.7" r="16.0"/><circle cx="1467.7" cy="923.8" r="16.0"/><circle cx="1506.2" cy="922.3" r="16.0"/><circle cx="1544.6" cy="922" r="16.0"/><circle cx="1583" cy="920.9" r="16.0"/><circle cx="1621.5" cy="918.5" r="16.0"/><circle cx="1659.9" cy="915.9" r="16.0"/><circle cx="1698.3" cy="912.6" r="16.0"/><circle cx="1736.8" cy="906.7" r="16.0"/><circle cx="1775.2" cy="900.4" r="16.0"/><circle cx="1813.6" cy="891.8" r="16.0"/><circle cx="1852" cy="882.7" r="16.0"/><circle cx="1890.5" cy="871" r="16.0"/><circle cx="1928.9" cy="856.4" r="16.0"/><circle cx="1967.3" cy="840.5" r="16.0"/><circle cx="2005.8" cy="821.5" r="16.0"/><circle cx="2044.2" cy="799.2" r="16.0"/><circle cx="2071.2" cy="782.8" r="16.0"/></g>
<polyline points="355.5,603.7 359.5,609.1 363.5,614.5 367.6,619.8 371.6,625.1 375.6,630.3 379.6,635.4 383.7,640.4 387.7,645.3 391.7,650 396,654.8 400.2,659.4 404.5,663.9 408.8,668.2 413.1,672.4 417.3,676.5 421.6,680.6 425.9,684.5 430.1,688.4 434.4,692.3 438.7,696.1 442.9,699.9 447.2,703.6 451.5,707.4 455.8,711 460,714.7 464.3,718.3 468.6,721.8 472.8,725.3 477.1,728.7 481.4,732.1 485.6,735.5 489.9,738.8 494.2,742.1 498.4,745.4 502.7,748.6 507,751.8 511.3,755 515.5,758.2 519.8,761.3 524.1,764.4 528.3,767.5 532.6,770.6 536.9,773.6 541.1,776.6 545.4,779.5 549.7,782.4 554,785.3 558.2,788.1 562.5,790.9 566.8,793.6 571,796.4 575.3,799.1 579.6,801.8 583.9,804.5 588.1,807.2 592.4,809.9 596.7,812.5 600.9,815.2 605.2,817.8 609.5,820.4 613.7,823 618,825.5 622.3,828 626.5,830.5 630.8,832.9 635.1,835.3 639.4,837.6 643.6,840 647.9,842.3 652.2,844.5 656.4,846.8 660.7,849 665,851.2 669.2,853.4 673.5,855.5 677.8,857.7 682.1,859.8 686.3,861.9 690.6,864 694.9,866.1 699.1,868.2 703.4,870.3 707.7,872.4 711.9,874.5 716.2,876.5 720.5,878.6 724.8,880.6 729,882.6 733.3,884.5 737.6,886.4 741.8,888.3 746.1,890.1 750.4,891.8 754.6,893.6 758.9,895.3 763.2,897 767.5,898.7 771.7,900.3 776,902 780.3,903.7 784.5,905.3 788.8,907 793.1,908.6 797.4,910.3 801.6,911.9 805.9,913.5 810.2,915.1 814.4,916.7 818.7,918.3 823,919.8 827.2,921.4 831.5,922.9 835.8,924.4 840,925.9 844.3,927.3 848.6,928.8 852.9,930.2 857.1,931.6 861.4,933 865.7,934.3 869.9,935.7 874.2,937 878.5,938.3 882.8,939.5 887,940.8 891.3,942 895.6,943.2 899.8,944.4 904.1,945.5 908.4,946.7 912.6,947.8 916.9,948.9 921.2,950 925.5,951.1 929.7,952.2 934,953.3 938.3,954.4 942.5,955.5 946.8,956.5 951.1,957.6 955.3,958.6 959.6,959.6 963.9,960.6 968.2,961.5 972.4,962.4 976.7,963.2 981,964.1 985.2,964.9 989.5,965.6 993.8,966.4 998,967.1 1002.3,967.9 1006.6,968.6 1010.8,969.3 1015.1,970.1 1019.4,970.8 1023.7,971.6 1027.9,972.3 1032.2,973 1036.5,973.8 1040.7,974.5 1045,975.2 1049.3,975.9 1053.5,976.6 1057.8,977.3 1062.1,977.9 1066.4,978.6 1070.6,979.2 1074.9,979.8 1079.2,980.4 1083.4,980.9 1087.7,981.4 1092,981.9 1096.2,982.4 1100.5,982.8 1104.8,983.2 1109.1,983.6 1113.3,984 1117.6,984.4 1121.9,984.8 1126.1,985.2 1130.4,985.6 1134.7,986 1138.9,986.4 1143.2,986.7 1147.5,987.1 1151.8,987.5 1156,987.8 1160.3,988.2 1164.6,988.5 1168.8,988.9 1173.1,989.2 1177.4,989.5 1181.7,989.8 1185.9,990.1 1190.2,990.3 1194.5,990.6 1198.7,990.8 1203,991 1207.3,991.2 1211.5,991.3 1215.8,991.5 1220.1,991.6 1224.4,991.7 1228.6,991.8 1232.9,991.9 1237.2,992 1241.4,992.1 1245.7,992.2 1250,992.2 1254.2,992.3 1258.5,992.4 1262.8,992.4 1267,992.4 1271.3,992.5 1275.6,992.5 1279.9,992.5 1284.1,992.5 1288.4,992.5 1292.7,992.5 1296.9,992.5 1301.2,992.4 1305.5,992.4 1309.8,992.4 1314,992.3 1318.3,992.2 1322.6,992.2 1326.8,992.1 1331.1,992 1335.4,991.9 1339.6,991.8 1343.9,991.7 1348.2,991.5 1352.5,991.4 1356.7,991.2 1361,991.1 1365.3,990.9 1369.5,990.7 1373.8,990.4 1378.1,990.2 1382.3,990 1386.6,989.7 1390.9,989.5 1395.1,989.2 1399.4,989 1403.7,988.7 1408,988.5 1412.2,988.2 1416.5,987.9 1420.8,987.7 1425,987.4 1429.3,987.1 1433.6,986.8 1437.8,986.5 1442.1,986.2 1446.4,985.9 1450.7,985.6 1454.9,985.3 1459.2,984.9 1463.5,984.6 1467.7,984.2 1472,983.8 1476.3,983.4 1480.5,983 1484.8,982.6 1489.1,982.1 1493.4,981.7 1497.6,981.3 1501.9,980.8 1506.2,980.4 1510.4,980 1514.7,979.6 1519,979.2 1523.2,978.8 1527.5,978.4 1531.8,978 1536.1,977.6 1540.3,977.1 1544.6,976.7 1548.9,976.2 1553.1,975.8 1557.4,975.3 1561.7,974.7 1566,974.2 1570.2,973.7 1574.5,973.1 1578.8,972.6 1583,972 1587.3,971.4 1591.6,970.8 1595.8,970.3 1600.1,969.7 1604.4,969.1 1608.7,968.5 1612.9,967.9 1617.2,967.4 1621.5,966.8 1625.7,966.3 1630,965.7 1634.3,965.2 1638.5,964.6 1642.8,964.1 1647.1,963.5 1651.4,963 1655.6,962.4 1659.9,961.8 1664.2,961.2 1668.4,960.5 1672.7,959.9 1677,959.2 1681.2,958.5 1685.5,957.8 1689.8,957.1 1694,956.4 1698.3,955.7 1702.6,955 1706.9,954.3 1711.1,953.6 1715.4,952.9 1719.7,952.2 1723.9,951.5 1728.2,950.8 1732.5,950 1736.8,949.3 1741,948.6 1745.3,947.8 1749.6,947 1753.8,946.3 1758.1,945.5 1762.4,944.7 1766.6,943.9 1770.9,943 1775.2,942.2 1779.5,941.4 1783.7,940.5 1788,939.6 1792.3,938.8 1796.5,937.9 1800.8,937 1805.1,936.1 1809.3,935.3 1813.6,934.4 1817.9,933.5 1822.2,932.7 1826.4,931.8 1830.7,931 1835,930.1 1839.2,929.3 1843.5,928.4 1847.8,927.6 1852,926.7 1856.3,925.8 1860.6,925 1864.8,924.1 1869.1,923.2 1873.4,922.4 1877.7,921.5 1881.9,920.6 1886.2,919.8 1890.5,918.9 1894.7,918 1899,917.2 1903.3,916.3 1907.5,915.5 1911.8,914.6 1916.1,913.8 1920.4,912.9 1924.6,912 1928.9,911.1 1933.2,910.2 1937.4,909.2 1941.7,908.3 1946,907.3 1950.2,906.4 1954.5,905.4 1958.8,904.5 1963.1,903.5 1967.3,902.6 1971.6,901.7 1975.9,900.8 1980.1,899.9 1984.4,899 1988.7,898.1 1993,897.2 1997.2,896.2 2001.5,895.3 2005.8,894.3 2010,893.3 2014.3,892.3 2018.6,891.2 2022.8,890.2 2027.1,889.1 2031.4,888.1 2035.7,887.1 2039.9,886.1 2044.2,885.1 2048.7,884.1 2053.2,883.2 2057.7,882.3 2062.2,881.4 2066.7,880.6 2071.2,879.7" fill="none" stroke="#B46EDC" stroke-width="8.5" stroke-linejoin="round" stroke-linecap="round"/>
<g fill="#00FFFF"><circle cx="355.5" cy="603.7" r="16.0"/><circle cx="391.7" cy="650" r="16.0"/><circle cx="430.1" cy="688.4" r="16.0"/><circle cx="468.6" cy="721.8" r="16.0"/><circle cx="507" cy="751.8" r="16.0"/><circle cx="545.4" cy="779.5" r="16.0"/><circle cx="583.9" cy="804.5" r="16.0"/><circle cx="622.3" cy="828" r="16.0"/><circle cx="660.7" cy="849" r="16.0"/><circle cx="699.1" cy="868.2" r="16.0"/><circle cx="737.6" cy="886.4" r="16.0"/><circle cx="776" cy="902" r="16.0"/><circle cx="814.4" cy="916.7" r="16.0"/><circle cx="852.9" cy="930.2" r="16.0"/><circle cx="891.3" cy="942" r="16.0"/><circle cx="929.7" cy="952.2" r="16.0"/><circle cx="968.2" cy="961.5" r="16.0"/><circle cx="1006.6" cy="968.6" r="16.0"/><circle cx="1045" cy="975.2" r="16.0"/><circle cx="1083.4" cy="980.9" r="16.0"/><circle cx="1121.9" cy="984.8" r="16.0"/><circle cx="1160.3" cy="988.2" r="16.0"/><circle cx="1198.7" cy="990.8" r="16.0"/><circle cx="1237.2" cy="992" r="16.0"/><circle cx="1275.6" cy="992.5" r="16.0"/><circle cx="1314" cy="992.3" r="16.0"/><circle cx="1352.5" cy="991.4" r="16.0"/><circle cx="1390.9" cy="989.5" r="16.0"/><circle cx="1429.3" cy="987.1" r="16.0"/><circle cx="1467.7" cy="984.2" r="16.0"/><circle cx="1506.2" cy="980.4" r="16.0"/><circle cx="1544.6" cy="976.7" r="16.0"/><circle cx="1583" cy="972" r="16.0"/><circle cx="1621.5" cy="966.8" r="16.0"/><circle cx="1659.9" cy="961.8" r="16.0"/><circle cx="1698.3" cy="955.7" r="16.0"/><circle cx="1736.8" cy="949.3" r="16.0"/><circle cx="1775.2" cy="942.2" r="16.0"/><circle cx="1813.6" cy="934.4" r="16.0"/><circle cx="1852" cy="926.7" r="16.0"/><circle cx="1890.5" cy="918.9" r="16.0"/><circle cx="1928.9" cy="911.1" r="16.0"/><circle cx="1967.3" cy="902.6" r="16.0"/><circle cx="2005.8" cy="894.3" r="16.0"/><circle cx="2044.2" cy="885.1" r="16.0"/><circle cx="2071.2" cy="879.7" r="16.0"/></g>
</g>
<g font-family="Liberation Serif, 'Times New Roman', serif" font-weight="bold" fill="#000">
<line x1="1291.5" y1="125.8" x2="1451.7" y2="125.8" stroke="#4E4E4E" stroke-width="10" stroke-linecap="round"/>
<circle cx="1370.7" cy="125.8" r="16.0" fill="#000000"/>
<text transform="translate(1470.6,150.8) scale(1,1.058)" font-size="72.3">HGM<tspan font-weight="bold">@</tspan>Ni<tspan font-size="48" dy="17.8">1</tspan><tspan dy="-17.8">Co</tspan><tspan font-size="48" dy="17.8">4</tspan><tspan dy="-17.8">/C</tspan></text>
<line x1="1291.5" y1="232.9" x2="1451.7" y2="232.9" stroke="#B46EDC" stroke-width="10" stroke-linecap="round"/>
<circle cx="1370.7" cy="232.9" r="16.0" fill="#00FFFF"/>
<text transform="translate(1470.6,257.9) scale(1,1.058)" font-size="72.3">HGM<tspan font-weight="bold">@</tspan>Ni<tspan font-size="48" dy="17.8">2</tspan><tspan dy="-17.8">Co</tspan><tspan font-size="48" dy="17.8">3</tspan><tspan dy="-17.8">/C</tspan></text>
<line x1="1291.5" y1="340" x2="1451.7" y2="340" stroke="#2EAD66" stroke-width="10" stroke-linecap="round"/>
<circle cx="1370.7" cy="340" r="16.0" fill="#0000FF"/>
<text transform="translate(1470.6,365) scale(1,1.058)" font-size="72.3">HGM<tspan font-weight="bold">@</tspan>Ni<tspan font-size="48" dy="17.8">1</tspan><tspan dy="-17.8">Co</tspan><tspan font-size="48" dy="17.8">1</tspan><tspan dy="-17.8">/C</tspan></text>
<line x1="1291.5" y1="447.1" x2="1451.7" y2="447.1" stroke="#F23C3C" stroke-width="10" stroke-linecap="round"/>
<circle cx="1370.7" cy="447.1" r="16.0" fill="#FF0000"/>
<text transform="translate(1470.6,472.1) scale(1,1.058)" font-size="72.3">HGM<tspan font-weight="bold">@</tspan>Ni<tspan font-size="48" dy="17.8">3</tspan><tspan dy="-17.8">Co</tspan><tspan font-size="48" dy="17.8">2</tspan><tspan dy="-17.8">/C</tspan></text>
<line x1="1291.5" y1="554.2" x2="1451.7" y2="554.2" stroke="#1A68DA" stroke-width="10" stroke-linecap="round"/>
<circle cx="1370.7" cy="554.2" r="16.0" fill="#00FF00"/>
<text transform="translate(1470.6,579.2) scale(1,1.058)" font-size="72.3">HGM<tspan font-weight="bold">@</tspan>Ni<tspan font-size="48" dy="17.8">4</tspan><tspan dy="-17.8">Co</tspan><tspan font-size="48" dy="17.8">1</tspan><tspan dy="-17.8">/C</tspan></text>
</g>
</svg></body></html>
